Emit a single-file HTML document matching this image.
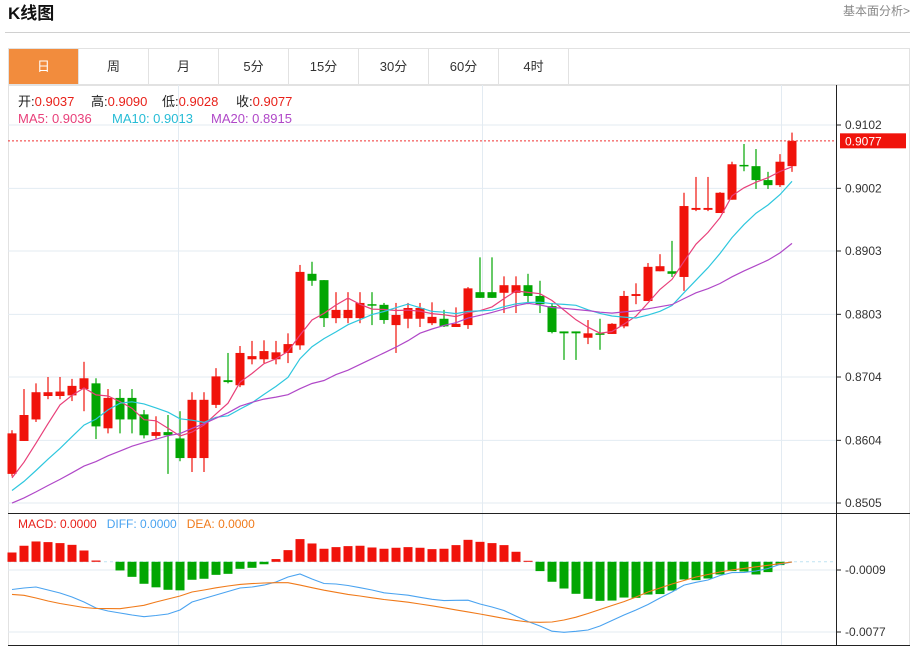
<!DOCTYPE html>
<html><head><meta charset="utf-8"><style>
body{margin:0;background:#fff;font-family:"Liberation Sans","Noto Sans CJK SC",sans-serif;}
#wrap{position:relative;width:919px;height:647px;overflow:hidden;}
svg text{font-family:"Liberation Sans","Noto Sans CJK SC",sans-serif;}
</style></head><body>
<div id="wrap">
<svg id="svg" width="919" height="647" xmlns="http://www.w3.org/2000/svg">
<text x="8" y="19" font-size="17" font-weight="bold" fill="#111">K线图</text>
<text x="910" y="15" font-size="12" fill="#888" text-anchor="end">基本面分析&gt;</text>
<line x1="5" y1="32.5" x2="910" y2="32.5" stroke="#d0d0d0"/>
<g id="tabs"></g>
<g id="grid"></g>
<g id="candles"></g>
<g id="ma"></g>
<g id="macd"></g>
<g id="axes"></g>
<text y="106" font-size="13"><tspan x="18" fill="#222">开:</tspan><tspan fill="#e8211a">0.9037</tspan><tspan x="91" fill="#222">高:</tspan><tspan fill="#e8211a">0.9090</tspan><tspan x="162" fill="#222">低:</tspan><tspan fill="#e8211a">0.9028</tspan><tspan x="236" fill="#222">收:</tspan><tspan fill="#e8211a">0.9077</tspan></text>
<text y="123" font-size="13"><tspan x="18" fill="#e8407a">MA5: 0.9036</tspan><tspan x="112" fill="#26bcd6">MA10: 0.9013</tspan><tspan x="211" fill="#b048c8">MA20: 0.8915</tspan></text>
<text x="18" y="528" font-size="12"><tspan fill="#e8211a">MACD: 0.0000</tspan><tspan fill="#4aa3f0" dx="10">DIFF: 0.0000</tspan><tspan fill="#f07a1a" dx="10">DEA: 0.0000</tspan></text>
</svg>
</div>
<script>
const tabLabels=["日","周","月","5分","15分","30分","60分","4时"];
const opens=[.8551,.8603,.8637,.8674,.8674,.8675,.8685,.8694,.8623,.8671,.8671,.8645,.8611,.8617,.8607,.8576,.8576,.8660,.8699,.8691,.8732,.8732,.8732,.8742,.8754,.8867,.8857,.8797,.8797,.8797,.8819,.8818,.8786,.8796,.8796,.8789,.8796,.8783,.8786,.8838,.8838,.8837,.8837,.8849,.8832,.8816,.8776,.8776,.8766,.8773,.8772,.8784,.8832,.8824,.8871,.8871,.8862,.8968,.8968,.8963,.8984,.9039,.9037,.9015,.9007,.9037];
const highs=[.8620,.8685,.8694,.8704,.8704,.8701,.8728,.8702,.8685,.8685,.8685,.8652,.8642,.8644,.8650,.8680,.8680,.8718,.8742,.8753,.8761,.8762,.8761,.8773,.8881,.8886,.8857,.8838,.8838,.8838,.8838,.8821,.8821,.8821,.8821,.8822,.8810,.8814,.8846,.8893,.8893,.8863,.8863,.8867,.8856,.8821,.8776,.8776,.8794,.8796,.8789,.8840,.8852,.8884,.8898,.8919,.8995,.9020,.9020,.8996,.9044,.9072,.9064,.9028,.9056,.9090];
const lows=[.8547,.8603,.8633,.8669,.8669,.8666,.8650,.8606,.8615,.8615,.8615,.8607,.8607,.8551,.8571,.8554,.8554,.8655,.8694,.8688,.8724,.8726,.8724,.8726,.8747,.8848,.8783,.8789,.8789,.8789,.8786,.8788,.8742,.8781,.8783,.8786,.8783,.8783,.8780,.8829,.8829,.8805,.8805,.8819,.8805,.8773,.8731,.8731,.8756,.8747,.8772,.8781,.8819,.8824,.8871,.8862,.8840,.8966,.8966,.8963,.8984,.9029,.9001,.9001,.9004,.9028];
const closes=[.8615,.8644,.8680,.8680,.8681,.8690,.8702,.8626,.8671,.8637,.8637,.8612,.8617,.8612,.8576,.8668,.8668,.8705,.8696,.8742,.8737,.8745,.8743,.8756,.8870,.8856,.8797,.8810,.8810,.8821,.8818,.8794,.8802,.8813,.8813,.8799,.8784,.8788,.8844,.8829,.8829,.8849,.8849,.8832,.8819,.8775,.8773,.8773,.8773,.8772,.8788,.8832,.8835,.8878,.8879,.8867,.8974,.8971,.8971,.8995,.9040,.9037,.9015,.9007,.9044,.9077];
const priorCloses=[.8480,.8490,.8478,.8488,.8482,.8492,.8484,.8486,.8488,.8482,.8500,.8508,.8502,.8510,.8505,.8520,.8530,.8526,.8532];
const priceTicks=[0.9102,0.9002,0.8903,0.8803,0.8704,0.8604,0.8505];
const macdHistE4=[10.2,17.6,22.3,21.6,20.5,18.6,12.4,1.4,0,-9.5,-16.5,-24.1,-28.0,-30.7,-31.3,-19.7,-18.6,-14.3,-13.2,-7.7,-6.6,-2.7,3.0,12.8,24.9,20.1,14.3,16.1,17.2,17.6,15.7,14.3,15.4,16.1,15.4,13.9,14.3,18.3,24.1,21.9,20.5,18.3,11.0,1.1,-10.2,-21.9,-29.3,-35.1,-40.6,-42.8,-42.5,-39.2,-39.5,-35.9,-35.4,-31.5,-19.4,-20.1,-18.3,-13.9,-10.2,-10.6,-13.9,-11.3,-3.6,0];
const diffE4=[-30.4,-28.7,-27.6,-30.9,-34.2,-38.6,-44.1,-50.7,-54.0,-56.2,-58.4,-60.2,-58.9,-57.3,-52.9,-44.1,-40.3,-36.4,-32.6,-28.7,-27.6,-25.5,-22.2,-16.7,-13.4,-18.9,-23.8,-24.4,-26.0,-28.4,-30.9,-34.0,-35.3,-36.6,-38.9,-41.1,-42.6,-42.2,-42.1,-46.3,-49.6,-53.4,-59.5,-65.5,-70.4,-76.1,-77.3,-76.2,-74.8,-70.4,-64.4,-58.4,-52.9,-46.8,-39.7,-33.1,-25.5,-22.5,-20.0,-15.0,-11.8,-11.6,-10.1,-7.3,-2.7,-0.2];
const deaE4=[-35.7,-36.7,-39.7,-43.0,-45.7,-47.9,-50.1,-51.2,-51.3,-51.4,-49.6,-47.7,-44.1,-40.8,-37.5,-33.1,-30.9,-28.5,-26.5,-24.8,-23.9,-23.3,-22.9,-22.9,-25.5,-28.4,-31.2,-33.5,-35.7,-37.5,-39.5,-41.4,-42.8,-44.3,-46.3,-48.3,-50.5,-52.7,-54.9,-57.3,-59.7,-62.1,-64.3,-66.0,-66.4,-66.0,-63.8,-60.8,-56.7,-52.3,-47.9,-43.6,-38.6,-33.1,-28.7,-24.4,-20.5,-16.7,-13.9,-11.2,-8.9,-7.2,-5.5,-3.8,-2.0,-0.2];
const macdTicksE4=[-9,-77];
const lastPrice=0.9077;

const NS="http://www.w3.org/2000/svg";
function mk(tag,attrs,parent){const e=document.createElementNS(NS,tag);for(const k in attrs)e.setAttribute(k,attrs[k]);parent.appendChild(e);return e;}
const X=i=>12+i*12;
const Y=p=>125+(0.9102-p)*6332;
const MY=v=>561.8-v*0.9118;
const G=id=>document.getElementById(id);

const tabs=G('tabs');
let r=mk('rect',{x:8.5,y:48.5,width:901,height:36,fill:'#fff',stroke:'#e2e2e2'},tabs);


tabLabels.forEach((t,i)=>{
  const x=8.5+i*70;
  const g=mk('g',{},tabs);
  
  
  mk('rect',{x:x,y:48.5,width:70,height:36,fill:i===0?'#f28c3d':'#fff',stroke:'#e2e2e2'},g);
  const tx=mk('text',{x:x+35,y:71,'font-size':13,'text-anchor':'middle',fill:i===0?'#fff':'#333'},g);
  tx.textContent=t;
});

const grid=G('grid');
mk('rect',{x:8.5,y:85.5,width:901,height:560,fill:'none',stroke:'#e2e2e2'},grid);
priceTicks.forEach(p=>{mk('line',{x1:8,x2:836,y1:Y(p),y2:Y(p),stroke:'#e3ebf2'},grid);});
[178.5,482.5,781.5].forEach(x=>{mk('line',{x1:x,x2:x,y1:85,y2:645,stroke:'#e3ebf2'},grid);});
macdTicksE4.forEach(v=>{mk('line',{x1:8,x2:836,y1:MY(v),y2:MY(v),stroke:'#e3ebf2'},grid);});

const cg=G('candles');
closes.forEach((c,i)=>{
  const o=opens[i],up=c>=o,col=up?'#f0130b':'#02a602';
  const g=mk('g',{},cg);
  
  
  mk('line',{x1:X(i),x2:X(i),y1:Y(highs[i]),y2:Y(lows[i]),stroke:col,'stroke-width':1.2},g);
  const top=Y(Math.max(o,c)),bot=Y(Math.min(o,c));
  mk('rect',{x:X(i)-4.5,y:top,width:9,height:Math.max(1.5,bot-top),fill:col},g);
});

const all=priorCloses.concat(closes);
function ma(n){return closes.map((_,i)=>{const j=i+priorCloses.length;let s=0;for(let k=j-n+1;k<=j;k++)s+=all[k];return s/n;});}
const mag=G('ma');
[[5,'#e8407a','ma5-line'],[10,'#2ec7de','ma10-line'],[20,'#b048c8','ma20-line']].forEach(([n,col,name])=>{
  const pts=ma(n).map((v,i)=>X(i)+','+Y(v).toFixed(1)).join(' ');
  const pl=mk('polyline',{points:pts,fill:'none',stroke:col,'stroke-width':1.2},mag);
  
  
});
const pline=mk('line',{x1:8,x2:836,y1:Y(lastPrice),y2:Y(lastPrice),stroke:'#f03030','stroke-dasharray':'2,2'},mag);



const mg=G('macd');
mk('line',{x1:8,x2:836,y1:MY(0),y2:MY(0),stroke:'#bfe3f2','stroke-dasharray':'3,3'},mg);
macdHistE4.forEach((v,i)=>{
  const y0=MY(0),y1=MY(v);
  const b=mk('rect',{x:X(i)-4.5,y:Math.min(y0,y1),width:9,height:Math.abs(y1-y0),fill:v>=0?'#f0130b':'#02a602'},mg);
  
  
});
[[diffE4,'#4aa3f0','diff-line'],[deaE4,'#f07a1a','dea-line']].forEach(([arr,col,name])=>{
  const pl=mk('polyline',{points:arr.map((v,i)=>X(i)+','+MY(v).toFixed(1)).join(' '),fill:'none',stroke:col,'stroke-width':1.1},mg);
  
  
});

const ax=G('axes');
mk('line',{x1:836.5,x2:836.5,y1:85,y2:645,stroke:'#222'},ax);
mk('line',{x1:8,x2:910,y1:513.5,y2:513.5,stroke:'#222'},ax);
mk('line',{x1:8,x2:910,y1:645.5,y2:645.5,stroke:'#222'},ax);
priceTicks.forEach(p=>{
  mk('line',{x1:836,x2:841,y1:Y(p),y2:Y(p),stroke:'#222'},ax);
  const t=mk('text',{x:845,y:Y(p)+4,'font-size':12,fill:'#333'},ax);
  
  
  t.textContent=p.toFixed(4);
});
macdTicksE4.forEach(v=>{
  mk('line',{x1:836,x2:841,y1:MY(v),y2:MY(v),stroke:'#222'},ax);
  const t=mk('text',{x:845,y:MY(v)+4,'font-size':12,fill:'#333'},ax);
  
  
  t.textContent=(v/10000).toFixed(4);
});
const lb=mk('g',{},ax);


mk('rect',{x:840,y:Y(lastPrice)-7.5,width:66,height:15,fill:'#f0130b'},lb);
const lt=mk('text',{x:845,y:Y(lastPrice)+4.5,'font-size':12,fill:'#fff'},lb);
lt.textContent=lastPrice.toFixed(4);
</script>
</body></html>
